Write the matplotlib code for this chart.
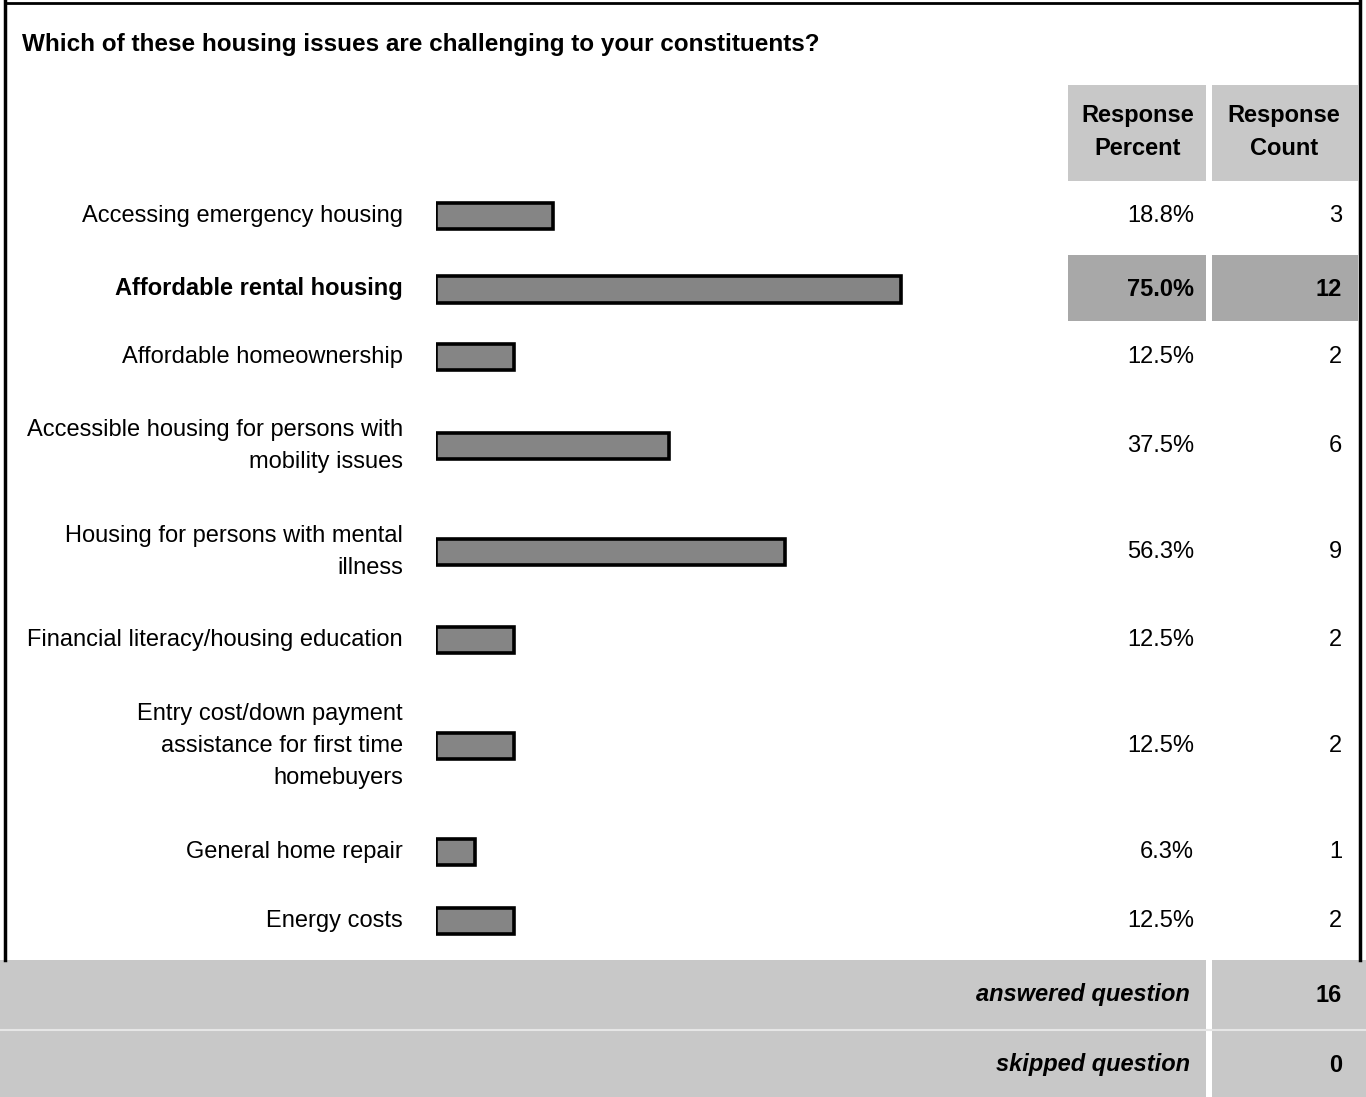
import matplotlib
matplotlib.use("Agg")
import matplotlib.pyplot as plt
from matplotlib.patches import Rectangle

plt.rcParams['font.family'] = ['Liberation Sans', 'DejaVu Sans']

title = "Which of these housing issues are challenging to your constituents?"
labels = [
    "Accessing emergency housing",
    "Affordable rental housing",
    "Affordable homeownership",
    "Accessible housing for persons with\nmobility issues",
    "Housing for persons with mental\nillness",
    "Financial literacy/housing education",
    "Entry cost/down payment\nassistance for first time\nhomebuyers",
    "General home repair",
    "Energy costs",
]
percent = [18.8, 75.0, 12.5, 37.5, 56.3, 12.5, 12.5, 6.3, 12.5]
count = [3, 12, 2, 6, 9, 2, 2, 1, 2]
answered = 16
skipped = 0
highlight = 1  # row shown bold and shaded

# layout, in pixels of a 1366 x 1097 page
W, H = 1366, 1097
row_y = [216, 289, 357, 446, 552, 640, 746, 852, 921]
row_h = [26, 27, 26, 26, 26, 26, 26, 26, 26]
shade = "#c8c8c8"
fs = 17

fig = plt.figure(figsize=(W / 100, H / 100), dpi=100)
ax = fig.add_axes([0, 0, 1, 1])
ax.set_xlim(0, W)
ax.set_ylim(H, 0)
ax.set_axis_off()

# frame
ax.plot([5, 5], [0, 960], color="k", lw=2.5)
ax.plot([5, 1360], [3, 3], color="k", lw=2)
ax.plot([1360, 1360], [0, 960], color="k", lw=2.5)

ax.text(22, 44, title, fontsize=17.5, fontweight="bold", va="center", ha="left")

# header cells
ax.add_patch(Rectangle((1068, 85), 138, 96, color=shade, lw=0))
ax.add_patch(Rectangle((1212, 85), 146, 96, color=shade, lw=0))
ax.text(1138, 132, "Response\nPercent", fontsize=17, fontweight="bold",
        ha="center", va="center", linespacing=1.6)
ax.text(1284, 132, "Response\nCount", fontsize=17, fontweight="bold",
        ha="center", va="center", linespacing=1.6)

# highlighted row cells
hy = row_y[highlight]
ax.add_patch(Rectangle((1068, hy - 34), 138, 66, color="#a8a8a8", lw=0))
ax.add_patch(Rectangle((1212, hy - 34), 146, 66, color="#a8a8a8", lw=0))

for i, (lab, p, c, y) in enumerate(zip(labels, percent, count, row_y)):
    bold = "bold" if i == highlight else "normal"
    ax.text(403, y, lab, fontsize=fs, fontweight=bold, ha="right", va="center",
            linespacing=1.6)
    ax.text(1194, y, f"{p:.1f}%", fontsize=fs, fontweight=bold, ha="right", va="center")
    ax.text(1342, y, str(c), fontsize=fs, fontweight=bold, ha="right", va="center")

# footer
ax.add_patch(Rectangle((0, 960), 1206, 137, color=shade, lw=0))
ax.add_patch(Rectangle((1212, 960), 154, 137, color=shade, lw=0))
ax.plot([0, W], [1030, 1030], color="#e6e6e6", lw=1.5)
ax.text(1190, 995, "answered question", fontsize=17, fontweight="bold",
        fontstyle="italic", ha="right", va="center")
ax.text(1342, 995, str(answered), fontsize=17, fontweight="bold", ha="right", va="center")
ax.text(1190, 1065, "skipped question", fontsize=17, fontweight="bold",
        fontstyle="italic", ha="right", va="center")
ax.text(1342, 1065, str(skipped), fontsize=17, fontweight="bold", ha="right", va="center")

# bars on their own percent scale: 0% at x=436px, 100% at x=1056px
bx = fig.add_axes([436 / W, 0, (1056 - 436) / W, 1])
bx.set_xlim(0, 100)
bx.set_ylim(H, 0)
bx.set_axis_off()
bx.patch.set_alpha(0)
bx.barh(row_y, percent, height=row_h, left=0, color="#858585",
        edgecolor="k", linewidth=2.6)

fig.savefig("out.png", dpi=100)
